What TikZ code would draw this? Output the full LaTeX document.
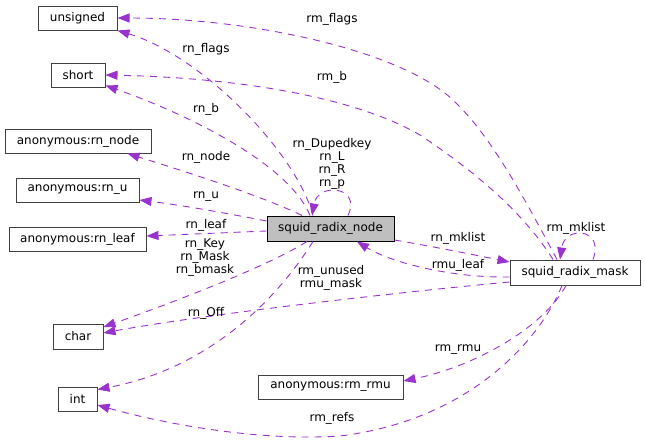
\documentclass[tikz,border=0pt]{standalone}
\usepackage{fontspec}
\setmainfont{DejaVu Sans}
\usetikzlibrary{arrows.meta,calc}
\definecolor{edgec}{HTML}{9A32CD}
\definecolor{boxc}{HTML}{404040}
\definecolor{mainfill}{HTML}{BFBFBF}
\begin{document}
\begin{tikzpicture}[x=1pt,y=-1pt,font=\fontsize{12}{13}\selectfont,
  box/.style={draw=boxc,line width=1pt,fill=white,inner sep=0pt,minimum height=24pt,align=center},
  mainbox/.style={draw=black,line width=1pt,fill=mainfill,inner sep=0pt,minimum height=25pt,align=center},
  dep/.style={draw=edgec,line width=0.9pt,dash pattern=on 7pt off 6pt,-{Triangle[length=12pt,width=9pt,fill=edgec]}},
  lbl/.style={inner sep=0pt,align=center}]
\useasboundingbox (0,0) rectangle (645,442);
% nodes
\node[box,minimum width=79pt] (uns) at (77.5,18) {unsigned};
\node[box,minimum width=54pt] (sht) at (78,75) {short};
\node[box,minimum width=146pt] (arn) at (78,141) {anonymous:rn\_node};
\node[box,minimum width=123pt] (aru) at (77.5,190) {anonymous:rn\_u};
\node[box,minimum width=137pt] (arl) at (77.5,239) {anonymous:rn\_leaf};
\node[box,minimum width=50pt,minimum height=25pt] (chr) at (78,336.5) {char};
\node[box,minimum width=39pt] (int) at (77.5,399) {int};
\node[mainbox,minimum width=127pt] (srn) at (330.5,228.5) {squid\_radix\_node};
\node[box,minimum width=130pt,minimum height=25pt] (srm) at (575,272.5) {squid\_radix\_mask};
\node[box,minimum width=145pt] (rmu) at (330.5,387) {anonymous:rm\_rmu};
% edges
\draw[dep] ([xshift=-17.5pt]srn.north) .. controls (295,150) and (200,55) .. (uns.south east);
\draw[dep] ([xshift=-18pt]srm.north) .. controls (520,190) and (490,135) .. (453,100) .. controls (400,50) and (250,18) .. (uns.east);
\draw[dep] ([xshift=-22pt]srm.north) .. controls (525,215) and (480,175) .. (420,135) .. controls (360,100) and (250,78) .. (sht.east);
\draw[dep] ([xshift=-20.5pt]srn.north) .. controls (290,165) and (190,115) .. ([yshift=2pt]sht.south east);
\draw[dep] ([xshift=-28.5pt]srn.north) .. controls (260,195) and (180,170) .. ([xshift=-24pt]arn.south east);
\draw[dep] ([yshift=7.5pt]srn.west) .. controls (220,212) and (180,205) .. ([yshift=-10pt]aru.east);
\draw[dep] ([yshift=-2.5pt]srn.west) -- ([yshift=3pt]arl.east);
\draw[dep] ([xshift=-23.5pt]srn.south) .. controls (270,265) and (180,300) .. ([yshift=-3.5pt]chr.north east);
\draw[dep] ([xshift=-17.5pt]srn.south) .. controls (270,310) and (200,370) .. ([yshift=-3pt]int.north east);
\draw[dep] ([yshift=-9.5pt]srm.west) .. controls (400,292) and (200,315) .. ([yshift=3.5pt]chr.east);
\draw[dep] ([yshift=-4.5pt]srm.west) .. controls (450,278) and (390,262) .. ([xshift=26.5pt]srn.south);
\draw[dep] ([yshift=-11.5pt]srn.east) .. controls (430,246) and (470,254) .. ([yshift=10.5pt]srm.west);
\draw[dep] ([xshift=-9pt]srm.south) .. controls (545,325) and (480,365) .. ([yshift=6pt]rmu.east);
\draw[dep] ([xshift=-13pt]srm.south) .. controls (540,340) and (470,420) .. (340,436) .. controls (250,442) and (150,420) .. ([yshift=-6pt]int.east);
\draw[dep] ([xshift=17.5pt]srn.north) .. controls (362,186) and (318,182) .. ([xshift=-18.5pt]srn.north);
\draw[dep] ([xshift=18pt]srm.north) .. controls (605,228) and (565,225) .. ([xshift=-15pt]srm.north);
% labels
\node[lbl] (l1) at (332,19) {rm\_flags};
\node[lbl] (l2) at (206,49) {rn\_flags};
\node[lbl] (l3) at (332,77) {rm\_b};
\node[lbl] (l4) at (206,109) {rn\_b};
\node[lbl] (l5) at (206,157) {rn\_node};
\node[lbl] (l6) at (206,197) {rn\_u};
\node[lbl] (l7) at (332,163.5) {rn\_Dupedkey\\rn\_L\\rn\_R\\rn\_p};
\node[lbl] (l8) at (206,225) {rn\_leaf};
\node[lbl] (l9) at (205,258) {rn\_Key\\rn\_Mask\\rn\_bmask};
\node[lbl] (l10) at (331,278) {rm\_unused\\rmu\_mask};
\node[lbl] (l11) at (206,313) {rn\_Off};
\node[lbl] (l12) at (458,238) {rn\_mklist};
\node[lbl] (l13) at (458,265) {rmu\_leaf};
\node[lbl] (l14) at (576,228) {rm\_mklist};
\node[lbl] (l15) at (458,350) {rm\_rmu};
\node[lbl] (l16) at (332,418) {rm\_refs};
\end{tikzpicture}
\end{document}
